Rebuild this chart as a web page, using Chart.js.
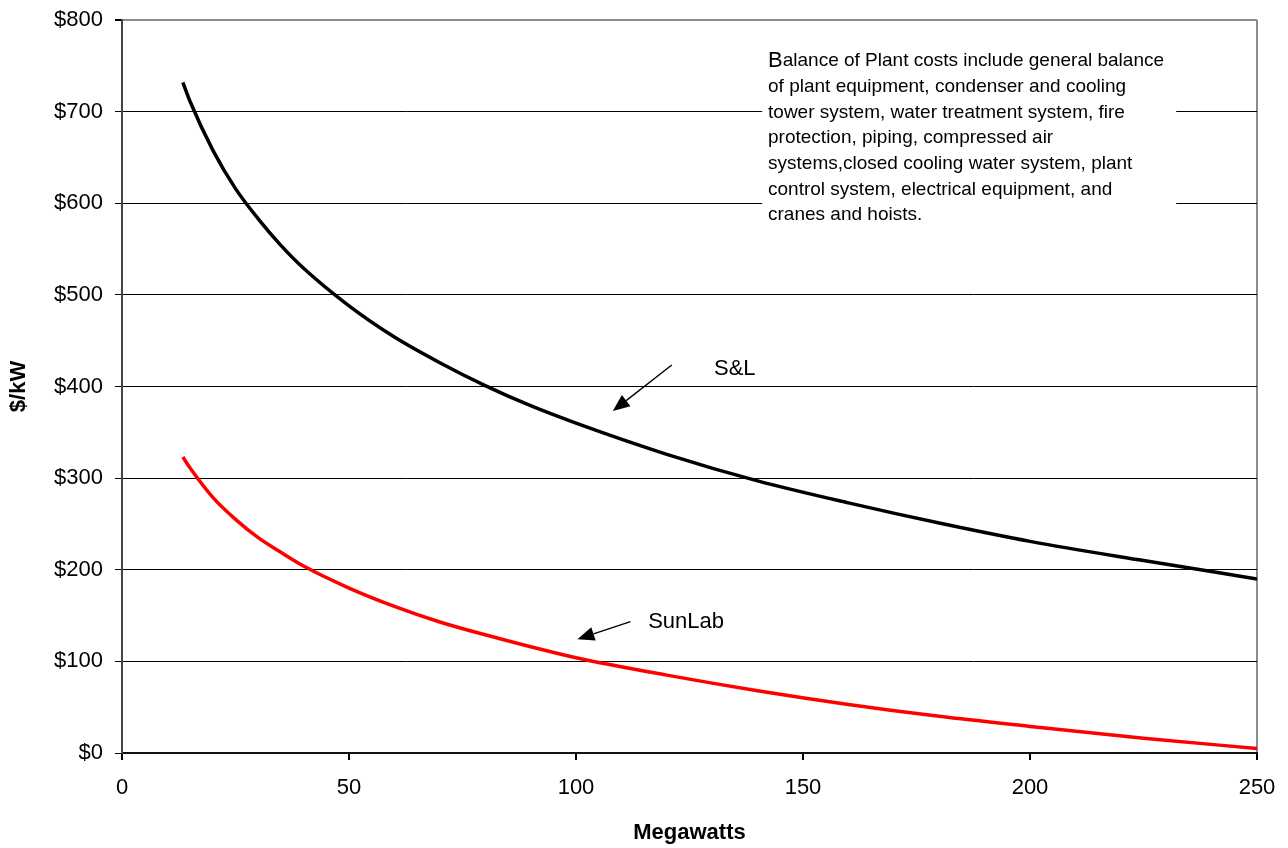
<!DOCTYPE html>
<html>
<head>
<meta charset="utf-8">
<script src="https://cdn.jsdelivr.net/npm/chart.js@4.4.1/dist/chart.umd.min.js"></script>
<style>
    body { margin: 0; background: #fff; }
    #wrap { width: 1288px; height: 848px; }
</style>
</head>
<body>
<div id="wrap"><canvas id="graphicCost"></canvas></div>
<script>
// Megawatts
const megawatts = [13.4, 15, 20, 25, 30, 35, 40, 50, 60, 70, 80, 90, 100, 120, 140, 160, 180, 200, 225, 250];
// $/kW, S&L curve (black)
const slCost = [732, 711, 658, 616, 583, 554, 529, 488, 454, 426, 401, 379, 360, 326, 297, 273, 251, 231, 210, 190];
// $/kW, SunLab curve (red)
const sunLabCost = [323, 311, 279, 255, 235, 219, 204, 180, 160, 143, 129, 116, 104, 85, 68, 53, 40, 29, 16, 5];

const noteLines = [
    'Balance of Plant costs include general balance',
    'of plant equipment, condenser and cooling',
    'tower system, water treatment system, fire',
    'protection, piping, compressed air',
    'systems,closed cooling water system, plant',
    'control system, electrical equipment, and',
    'cranes and hoists.',
];

// labels and arrows, in data units [x, y]
const slLabel = { text: 'S&L', at: [130.4, 419] };
const slArrow = { from: [121.1, 423.4], to: [108.1, 373.2] };
const sunLabLabel = { text: 'SunLab', at: [115.9, 143.5] };
const sunLabArrow = { from: [112.0, 143.3], to: [100.3, 124.1] };
const noteBox = { left: 141, right: 232.2, top: 780, bottom: 560, textX: 142.3, firstLine: 755.2 };

const toPoints = (xs, ys) => xs.map((x, i) => ({ x: x, y: ys[i] }));

const drawArrow = (ctx, x1, y1, x2, y2) => {
    let angle = Math.atan2(y2 - y1, x2 - x1);
    let headLen = 17, headHalf = 7;
    let bx = x2 - headLen * Math.cos(angle);
    let by = y2 - headLen * Math.sin(angle);
    ctx.strokeStyle = '#000';
    ctx.lineWidth = 1.4;
    ctx.beginPath();
    ctx.moveTo(x1, y1);
    ctx.lineTo(bx, by);
    ctx.stroke();
    ctx.fillStyle = '#000';
    ctx.beginPath();
    ctx.moveTo(x2, y2);
    ctx.lineTo(bx + headHalf * Math.sin(angle), by - headHalf * Math.cos(angle));
    ctx.lineTo(bx - headHalf * Math.sin(angle), by + headHalf * Math.cos(angle));
    ctx.closePath();
    ctx.fill();
}

const notesPlugin = {
    id: 'notes',
    afterDatasetsDraw(chart) {
        const ctx = chart.ctx;
        const xs = chart.scales.x, ys = chart.scales.y;
        const px = v => xs.getPixelForValue(v);
        const py = v => ys.getPixelForValue(v);
        ctx.save();

        // white text box over the gridlines
        ctx.fillStyle = '#fff';
        ctx.fillRect(px(noteBox.left), py(noteBox.top), px(noteBox.right) - px(noteBox.left), py(noteBox.bottom) - py(noteBox.top));

        ctx.fillStyle = '#000';
        ctx.textBaseline = 'middle';
        ctx.textAlign = 'left';
        let tx = px(noteBox.textX);
        let ty = py(noteBox.firstLine);
        noteLines.forEach((line, i) => {
            let y = ty + i * 25.7;
            if (i === 0) {
                ctx.font = '22px "Liberation Sans", Arial, sans-serif';
                ctx.fillText(line[0], tx, y);
                let w = ctx.measureText(line[0]).width;
                ctx.font = '19px "Liberation Sans", Arial, sans-serif';
                ctx.fillText(line.slice(1), tx + w, y);
            } else {
                ctx.font = '19px "Liberation Sans", Arial, sans-serif';
                ctx.fillText(line, tx, y);
            }
        });

        ctx.font = '22px "Liberation Sans", Arial, sans-serif';
        ctx.fillText(slLabel.text, px(slLabel.at[0]), py(slLabel.at[1]));
        ctx.fillText(sunLabLabel.text, px(sunLabLabel.at[0]), py(sunLabLabel.at[1]));

        drawArrow(ctx, px(slArrow.from[0]), py(slArrow.from[1]), px(slArrow.to[0]), py(slArrow.to[1]));
        drawArrow(ctx, px(sunLabArrow.from[0]), py(sunLabArrow.from[1]), px(sunLabArrow.to[0]), py(sunLabArrow.to[1]));
        ctx.restore();
    }
};

Chart.defaults.font.family = '"Liberation Sans", Arial, sans-serif';
Chart.defaults.color = '#000';

const graphicCostElement = document.getElementById('graphicCost');

const graphicCost = new Chart(graphicCostElement, {
    type: 'line',
    data: {
        datasets: [
            {
                label: 'S&L',
                data: toPoints(megawatts, slCost),
                borderColor: '#000',
                borderWidth: 3.5,
                pointRadius: 0,
                cubicInterpolationMode: 'monotone',
            },
            {
                label: 'SunLab',
                data: toPoints(megawatts, sunLabCost),
                borderColor: '#ff0000',
                borderWidth: 3.5,
                pointRadius: 0,
                cubicInterpolationMode: 'monotone',
            },
        ],
    },
    options: {
        responsive: true,
        maintainAspectRatio: false,
        animation: false,
        devicePixelRatio: 1,
        layout: { padding: { left: 0, top: 20, right: 31, bottom: 0 } },
        plugins: {
            legend: { display: false },
            tooltip: { enabled: false },
        },
        scales: {
            x: {
                type: 'linear',
                min: 0,
                max: 250,
                ticks: { stepSize: 50, padding: 15, font: { size: 22 } },
                grid: {
                    color: ctx => (ctx.tick && ctx.tick.value === 250) ? '#8c8c8c' : 'rgba(0,0,0,0)',
                    tickColor: '#000',
                    tickLength: 7,
                    lineWidth: 2,
                },
                border: { color: '#111', width: 2 },
                title: { display: true, text: 'Megawatts', font: { size: 22, weight: 'bold' }, padding: { top: 0, bottom: 2 } },
                afterFit: scale => { scale.height = 95; scale.paddingLeft = 0; scale.paddingRight = 0; },
            },
            y: {
                min: 0,
                max: 800,
                ticks: { stepSize: 100, padding: 12, font: { size: 22 }, callback: value => '$' + value },
                grid: {
                    color: ctx => (ctx.tick && ctx.tick.value === 800) ? '#8c8c8c' : '#000',
                    tickColor: '#000',
                    tickLength: 7,
                    lineWidth: ctx => (ctx.tick && ctx.tick.value === 800) ? 2 : 1,
                },
                border: { color: '#444', width: 2 },
                title: { display: true, text: '$/kW', font: { size: 22, weight: 'bold' }, padding: { top: 6, bottom: 0 } },
                afterFit: scale => { scale.width = 122; scale.paddingTop = 0; scale.paddingBottom = 0; },
            },
        },
    },
    plugins: [notesPlugin],
});
</script>
</body>
</html>
